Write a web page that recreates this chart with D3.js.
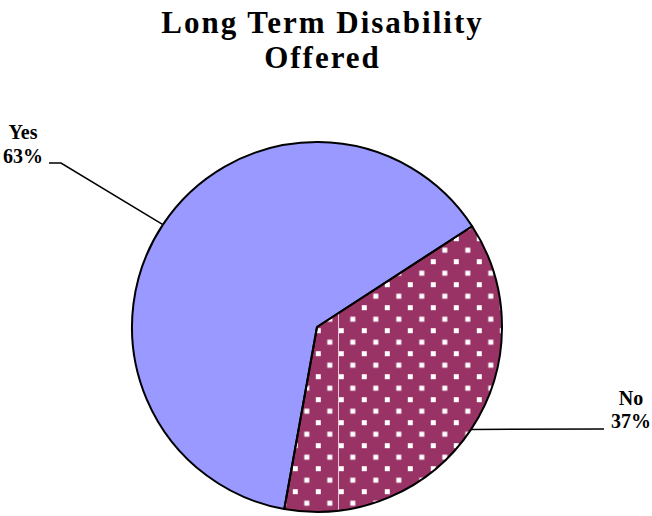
<!DOCTYPE html>
<html><head><meta charset="utf-8">
<script src="https://cdn.jsdelivr.net/npm/d3@7"></script>
<style>body{margin:0;background:#fff}</style>
</head><body>
<svg id="c" width="652" height="516"></svg>
<script>
const categories = ["Yes", "No"];
const values = [63, 37];
const percentLabels = ["63%", "37%"];
const titleLines = ["Long Term Disability", "Offered"];
const colors = ["#9999FF", "#993366"];

const W = 652, H = 516;
const svg = d3.select("#c").style("background", "#fff");
const cx = 317, cy = 327, r = 185;
const startDeg = -169.8;
const sA = startDeg * Math.PI / 180;

const pie = d3.pie().sort(null).startAngle(sA).endAngle(sA + 2 * Math.PI);
const arcs = pie(values);
const arc = d3.arc().innerRadius(0).outerRadius(r);

const defs = svg.append("defs");
const pat = defs.append("pattern")
  .attr("id", "dots")
  .attr("patternUnits", "userSpaceOnUse")
  .attr("width", 23).attr("height", 23)
  .attr("x", 430.8 - cx).attr("y", 259.2 - cy);
pat.append("rect").attr("width", 23).attr("height", 23).attr("fill", colors[1]);
pat.append("rect").attr("x", 0).attr("y", 0).attr("width", 5).attr("height", 5).attr("fill", "#fff");
pat.append("rect").attr("x", 11.5).attr("y", 11.5).attr("width", 5).attr("height", 5).attr("fill", "#fff");

defs.append("clipPath").attr("id", "noclip")
  .append("path").attr("d", arc(arcs[1]));

// Title
const title = svg.append("text")
  .attr("text-anchor", "middle")
  .attr("font-family", "'Liberation Serif', 'Times New Roman', serif")
  .attr("font-weight", "bold")
  .attr("font-size", 31)
  .attr("letter-spacing", 2)
  .attr("fill", "#000");
titleLines.forEach((t, i) => {
  title.append("tspan").attr("x", 322.5).attr("y", 33 + i * 35).text(t);
});

const g = svg.append("g").attr("transform", `translate(${cx},${cy})`);

g.selectAll("path.slice").data(arcs).enter().append("path")
  .attr("class", "slice")
  .attr("d", arc)
  .attr("fill", (d, i) => i === 1 ? "url(#dots)" : colors[i]);

// thin seam artifact inside the patterned slice
g.append("line")
  .attr("clip-path", "url(#noclip)")
  .attr("x1", 338.5 - cx).attr("x2", 338.5 - cx)
  .attr("y1", -r).attr("y2", r)
  .attr("stroke", "#e6c8d6").attr("stroke-width", 1);

// outline on top
g.selectAll("path.outline").data(arcs).enter().append("path")
  .attr("class", "outline")
  .attr("d", arc)
  .attr("fill", "none")
  .attr("stroke", "#000")
  .attr("stroke-width", 2)
  .attr("stroke-linejoin", "round");

// Labels + leader lines
const labelPos = [
  { x: 23, y1: 139, y2: 163, lineEnd: [[61, 163], [49, 163]] },
  { x: 631, y1: 405, y2: 428, lineEnd: [[604, 429]] }
];
const mid = d => (d.startAngle + d.endAngle) / 2;
arcs.forEach((d, i) => {
  const a = mid(d);
  const px = cx + r * Math.sin(a), py = cy - r * Math.cos(a);
  const pts = [[px, py]].concat(labelPos[i].lineEnd);
  svg.append("path")
    .attr("d", d3.line()(pts))
    .attr("fill", "none").attr("stroke", "#000").attr("stroke-width", 1.5);
  const t = svg.append("text")
    .attr("text-anchor", "middle")
    .attr("font-family", "'Liberation Serif', 'Times New Roman', serif")
    .attr("font-weight", "bold")
    .attr("font-size", 20)
    .attr("fill", "#000");
  t.append("tspan").attr("x", labelPos[i].x).attr("y", labelPos[i].y1).text(categories[i]);
  t.append("tspan").attr("x", labelPos[i].x).attr("y", labelPos[i].y2).text(percentLabels[i]);
});
</script>
</body></html>
